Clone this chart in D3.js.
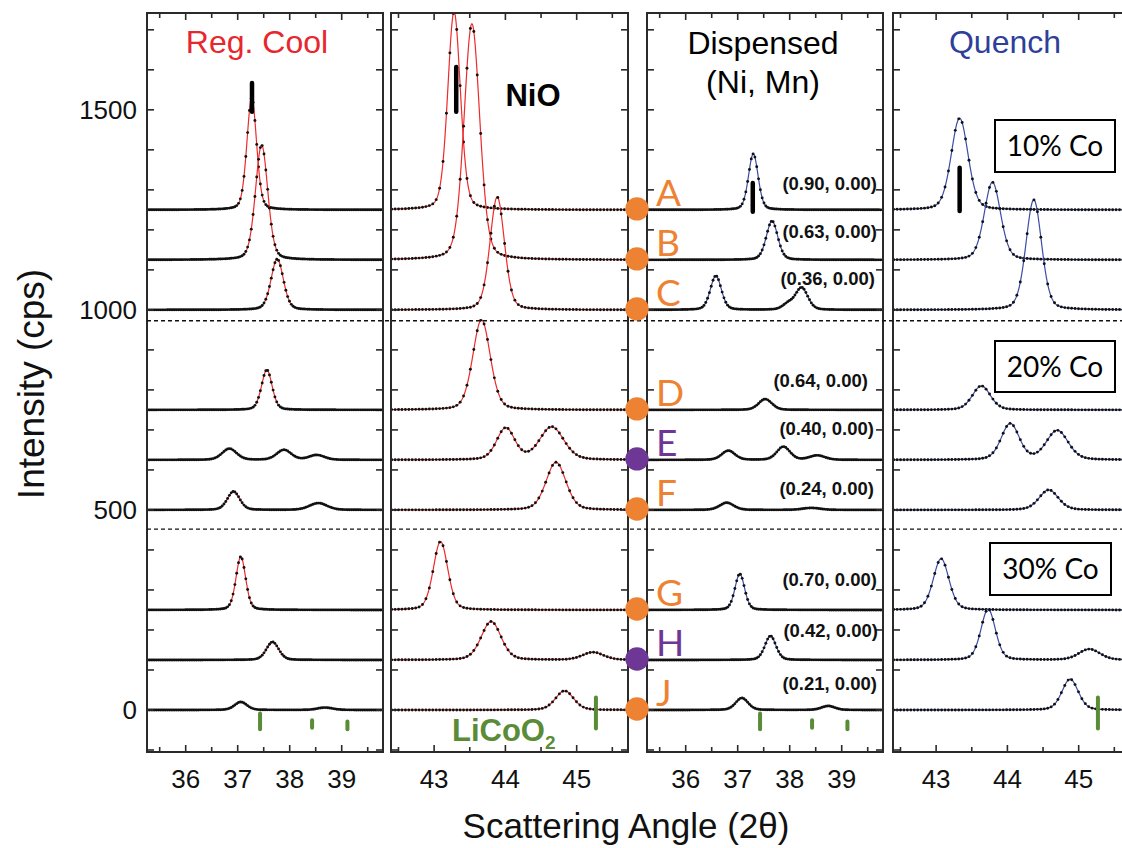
<!DOCTYPE html>
<html><head><meta charset="utf-8">
<script src="https://cdn.jsdelivr.net/npm/d3@7"></script>
<style>body{margin:0;background:#fff} svg{display:block}</style>
</head><body>
<svg id="c" width="1122" height="848"></svg>
<script>
// ---------------- data ----------------
const sampleLetters = ["A","B","C","D","E","F","G","H","J"];
const sampleBaselines = [1250, 1125, 1000, 750, 625, 500, 250, 125, 0];   // cps offset of each trace
const samplePurple = [false,false,false,false,true,false,false,true,false];
const compositionLabels = ["(0.90, 0.00)","(0.63, 0.00)","(0.36, 0.00)","(0.64, 0.00)","(0.40, 0.00)","(0.24, 0.00)","(0.70, 0.00)","(0.42, 0.00)","(0.21, 0.00)"];
const coLabels = ["10% Co","20% Co","30% Co"];
const yTickLabels = [0, 500, 1000, 1500];
const xTicks111 = [36, 37, 38, 39];
const xTicks200 = [43, 44, 45];
const groupSeparators = [973, 452];

// peaks per trace: [center 2θ, height cps, FWHM °]
const regCool111 = [
  [[37.27, 280, 0.22]],
  [[37.46, 287, 0.28]],
  [[37.76, 127, 0.28]],
  [[37.56, 100, 0.24]],
  [[36.84, 28, 0.33], [37.89, 25, 0.33], [38.52, 12, 0.35]],
  [[36.92, 46, 0.28], [38.55, 17, 0.40]],
  [[37.06, 133, 0.22]],
  [[37.67, 45, 0.28]],
  [[37.06, 20, 0.28], [38.68, 6, 0.35]]
];
const regCool200 = [
  [[43.28, 495, 0.21]],
  [[43.53, 590, 0.26]],
  [[43.885, 282, 0.24]],
  [[43.665, 225, 0.29]],
  [[44.005, 79, 0.30], [44.65, 82, 0.40]],
  [[44.71, 119, 0.33]],
  [[43.09, 171, 0.24]],
  [[43.80, 96, 0.33], [45.23, 19, 0.35]],
  [[44.83, 48, 0.30]]
];
const dispensed111 = [
  [[37.30, 140, 0.22]],
  [[37.66, 97, 0.26]],
  [[36.58, 85, 0.25], [37.97, 14, 0.25], [38.23, 55, 0.28]],
  [[37.53, 27, 0.30]],
  [[36.82, 23, 0.30], [37.88, 33, 0.30], [38.53, 11, 0.35]],
  [[36.79, 18, 0.32], [38.42, 5, 0.40]],
  [[37.04, 90, 0.22]],
  [[37.63, 60, 0.25]],
  [[37.08, 30, 0.28], [38.74, 10, 0.30]]
];
const quench200 = [
  [[43.33, 229, 0.28]],
  [[43.79, 194, 0.27]],
  [[44.37, 275, 0.26]],
  [[43.635, 60, 0.30]],
  [[44.04, 90, 0.30], [44.70, 73, 0.36]],
  [[44.58, 50, 0.32]],
  [[43.07, 128, 0.26]],
  [[43.73, 127, 0.24], [45.15, 27, 0.35]],
  [[44.88, 77, 0.27]]
];
// reference markers: [2θ, from cps, to cps]
const nioMarks = [[37.275, 1495, 1567], [43.31, 1495, 1607], [37.29, 1245, 1317], [43.33, 1247, 1355]];
const licoo2Marks111 = [[37.43, -5, -52], [38.43, -22, -48], [39.11, -25, -52]];
const licoo2Marks200 = [[45.27, 35, -50]];

// ---------------- layout ----------------
const W = 1122, H = 848;
const svg = d3.select("#c");
const RED = "#ee2a2a", BLUE = "#3b4ba8", ORANGE = "#ee8233", PURPLE = "#6e3795", GREEN = "#5a8c37";
const FONT = "'Liberation Sans', Arial, sans-serif";
const y = d3.scaleLinear().domain([-105, 1742]).range([752, 13]);

const panels = [
  {x0: 147, x1: 383, dom: [35.256, 39.794], peaks: regCool111, color: RED, ticks: xTicks111, nio: nioMarks[0], lic: licoo2Marks111, step: 0.035},
  {x0: 391, x1: 628, dom: [42.395, 45.72], peaks: regCool200, color: RED, ticks: xTicks200, nio: nioMarks[1], lic: licoo2Marks200, step: 0.048},
  {x0: 647, x1: 883, dom: [35.256, 39.794], peaks: dispensed111, color: BLUE, ticks: xTicks111, nio: nioMarks[2], lic: licoo2Marks111, step: 0.035},
  {x0: 893, x1: 1130, dom: [42.395, 45.72], peaks: quench200, color: BLUE, ticks: xTicks200, nio: nioMarks[3], lic: licoo2Marks200, step: 0.048}
];

function profile(x, pk) {
  const d = (x - pk[0]) / pk[2];
  const g = Math.exp(-4 * Math.LN2 * d * d);
  const l = 1 / (1 + 4 * d * d);
  return pk[1] * (0.25 * l + 0.75 * g);
}

const defs = svg.append("defs");

panels.forEach((p, pi) => {
  const x = d3.scaleLinear().domain(p.dom).range([p.x0, p.x1]);
  p.x = x;
  const cid = "clip" + pi;
  defs.append("clipPath").attr("id", cid).append("rect")
    .attr("x", p.x0).attr("y", y.range()[1]).attr("width", p.x1 - p.x0).attr("height", y.range()[0] - y.range()[1]);
  const g = svg.append("g").attr("clip-path", `url(#${cid})`);

  const fine = d3.range(p.dom[0], p.dom[1] + 0.005, 0.005);
  const coarse = d3.range(p.dom[0] + 0.01, p.dom[1], p.step);
  p.peaks.forEach((pks, ti) => {
    const base = sampleBaselines[ti];
    const f = t => base + d3.sum(pks, pk => profile(t, pk));
    const line = d3.line().x(t => x(t)).y(t => y(f(t)));
    g.append("path").attr("d", line(fine)).attr("fill", "none")
      .attr("stroke", p.color).attr("stroke-width", 1.2);
    g.append("g").selectAll("circle").data(coarse).join("circle")
      .attr("cx", t => x(t)).attr("cy", t => y(f(t))).attr("r", 1.45).attr("fill", "#111");
  });

  // NiO marker
  g.append("line").attr("x1", x(p.nio[0])).attr("x2", x(p.nio[0]))
    .attr("y1", y(p.nio[1])).attr("y2", y(p.nio[2]))
    .attr("stroke", "#000").attr("stroke-width", 4.5).attr("stroke-linecap", "round");
  // LiCoO2 markers
  g.selectAll("line.lic").data(p.lic).join("line").attr("class", "lic")
    .attr("x1", d => x(d[0])).attr("x2", d => x(d[0]))
    .attr("y1", d => y(d[1]) + 1.5).attr("y2", d => y(d[2]) - 1.5)
    .attr("stroke", GREEN).attr("stroke-width", 4).attr("stroke-linecap", "round");

  // frame ticks
  const fr = svg.append("g").attr("stroke", "#2a2a2a").attr("stroke-width", 1.6);
  const half = d3.range(Math.ceil(p.dom[0] * 2) / 2, p.dom[1], 0.5);
  half.forEach(t => {
    const major = Math.abs(t - Math.round(t)) < 1e-6;
    const L = major ? 7 : 5;
    fr.append("line").attr("x1", x(t)).attr("x2", x(t)).attr("y1", y.range()[0]).attr("y2", y.range()[0] - L);
    fr.append("line").attr("x1", x(t)).attr("x2", x(t)).attr("y1", y.range()[1]).attr("y2", y.range()[1] + L);
  });
  d3.range(-100, 1701, 100).forEach(v => {
    fr.append("line").attr("x1", p.x0).attr("x2", p.x0 + 7).attr("y1", y(v)).attr("y2", y(v));
    if (p.x1 < W) fr.append("line").attr("x1", p.x1).attr("x2", p.x1 - 7).attr("y1", y(v)).attr("y2", y(v));
  });
  svg.append("rect").attr("x", p.x0).attr("y", y.range()[1]).attr("width", p.x1 - p.x0)
    .attr("height", y.range()[0] - y.range()[1]).attr("fill", "none").attr("stroke", "#2a2a2a").attr("stroke-width", 2);

  // x tick labels
  svg.append("g").selectAll("text").data(p.ticks).join("text")
    .attr("x", t => x(t)).attr("y", 788).attr("text-anchor", "middle")
    .attr("font-family", FONT).attr("font-size", 26).attr("fill", "#111").text(t => t);
});

// dashed separators
svg.append("g").selectAll("line").data(groupSeparators).join("line")
  .attr("x1", 147).attr("x2", W).attr("y1", v => y(v)).attr("y2", v => y(v))
  .attr("stroke", "#111").attr("stroke-width", 1.4).attr("stroke-dasharray", "4,3");

// y tick labels
svg.append("g").selectAll("text").data(yTickLabels).join("text")
  .attr("x", 137).attr("y", v => y(v) + 9).attr("text-anchor", "end")
  .attr("font-family", FONT).attr("font-size", 26).attr("fill", "#111").text(v => v);

// axis titles
svg.append("text").attr("transform", "translate(44,384) rotate(-90)").attr("text-anchor", "middle")
  .attr("font-family", FONT).attr("font-size", 37).attr("fill", "#111").text("Intensity (cps)");
svg.append("text").attr("x", 626).attr("y", 838).attr("text-anchor", "middle")
  .attr("font-family", FONT).attr("font-size", 35).attr("fill", "#111").text("Scattering Angle (2θ)");

// panel titles
svg.append("text").attr("x", 257).attr("y", 53).attr("text-anchor", "middle").attr("font-family", FONT)
  .attr("font-size", 32).attr("fill", "#e8262d").text("Reg. Cool");
svg.append("text").attr("x", 533).attr("y", 106).attr("text-anchor", "middle").attr("font-family", FONT)
  .attr("font-size", 31).attr("font-weight", "bold").attr("fill", "#000").text("NiO");
svg.append("text").attr("x", 763).attr("y", 54).attr("text-anchor", "middle").attr("font-family", FONT)
  .attr("font-size", 32).attr("fill", "#000").text("Dispensed");
svg.append("text").attr("x", 763).attr("y", 93).attr("text-anchor", "middle").attr("font-family", FONT)
  .attr("font-size", 32).attr("fill", "#000").text("(Ni, Mn)");
svg.append("text").attr("x", 1005).attr("y", 53).attr("text-anchor", "middle").attr("font-family", FONT)
  .attr("font-size", 32).attr("fill", "#2e3f99").text("Quench");

// LiCoO2 label
const lt = svg.append("text").attr("x", 452).attr("y", 741).attr("font-family", FONT)
  .attr("font-size", 31).attr("font-weight", "bold").attr("fill", GREEN);
lt.append("tspan").text("LiCoO");
lt.append("tspan").attr("font-size", 19).attr("dy", 8).text("2");

// Co boxes
const boxLayout = [[995, 120, 120, 52], [995, 341, 120, 51], [990, 543, 121, 52]];
coLabels.forEach((t, i) => {
  const b = boxLayout[i];
  svg.append("rect").attr("x", b[0]).attr("y", b[1]).attr("width", b[2]).attr("height", b[3])
    .attr("fill", "#fff").attr("stroke", "#000").attr("stroke-width", 2);
  svg.append("text").attr("x", b[0] + b[2] / 2).attr("y", b[1] + b[3] / 2 + 10).attr("text-anchor", "middle")
    .attr("font-family", "Lato, 'Open Sans', sans-serif").attr("font-size", 28).attr("fill", "#000").text(t);
});

// sample circles, letters, composition labels
const labelDy = [20, 22, 25, 23, 25, 15, 24, 23, 20];
const labelRight = [877, 877, 875, 868, 874, 874, 877, 878, 877];
sampleLetters.forEach((L, i) => {
  const yy = y(sampleBaselines[i]);
  const col = samplePurple[i] ? PURPLE : ORANGE;
  svg.append("circle").attr("cx", 637).attr("cy", yy - 1).attr("r", 11.7).attr("fill", col);
  svg.append("text").attr("x", 656).attr("y", yy - 4).attr("font-family", "Lato, 'Open Sans', sans-serif")
    .attr("font-size", 37).attr("fill", col).text(L);
  svg.append("text").attr("x", labelRight[i]).attr("y", yy - labelDy[i]).attr("text-anchor", "end")
    .attr("font-family", FONT).attr("font-weight", "bold").attr("font-size", 18.5).attr("fill", "#111")
    .text(compositionLabels[i]);
});
</script>
</body></html>
